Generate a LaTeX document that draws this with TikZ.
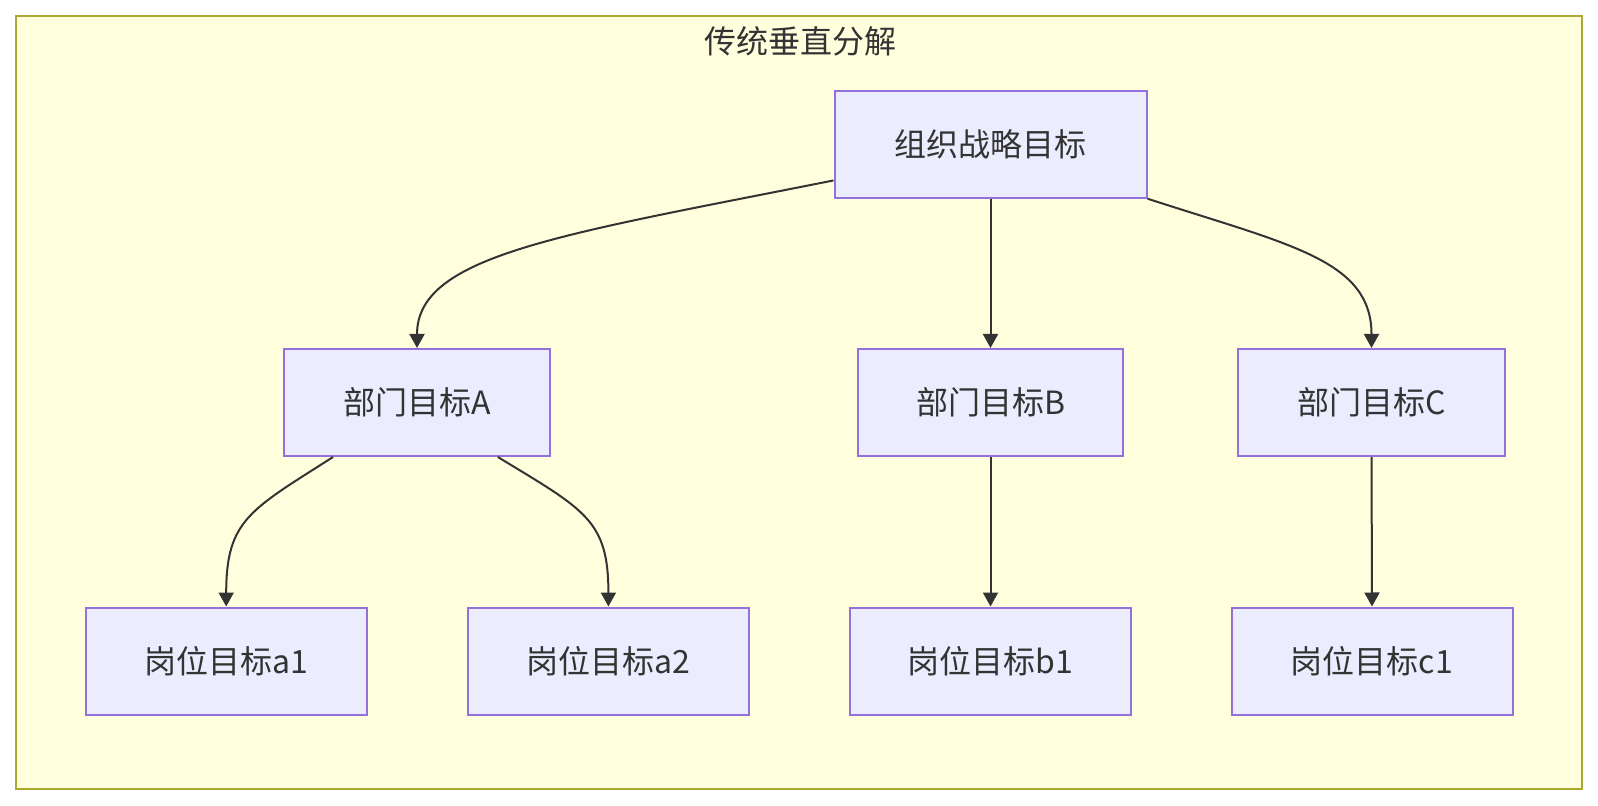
\documentclass[tikz,border=0pt]{standalone}
\usepackage{fontspec}
\setmainfont{Noto Sans CJK SC}
\usetikzlibrary{arrows.meta}
\definecolor{nodefill}{HTML}{ECECFF}
\definecolor{nodeline}{HTML}{9370DB}
\definecolor{clusterfill}{HTML}{FFFFDE}
\definecolor{clusterline}{HTML}{AAAA33}
\definecolor{edgecol}{HTML}{333333}
\definecolor{textcol}{HTML}{333333}
\begin{document}
\begin{tikzpicture}[x=0.5pt,y=-0.5pt,
  box/.style={draw=nodeline, fill=nodefill, line width=1pt, inner sep=0pt,
    minimum height=53.5pt, text=textcol, font=\fontsize{16}{19}\selectfont},
  cluster/.style={draw=clusterline, fill=clusterfill, line width=1pt},
  titletext/.style={text=textcol, font=\fontsize{16}{19}\selectfont, inner sep=0pt},
  link/.style={draw=edgecol, line width=1pt, -{Triangle[length=7pt,width=7.5pt]}}]
\useasboundingbox (0,0) rectangle (1598,806);
\fill[white] (0,0) rectangle (1598,806);
\draw[cluster] (16,16) rectangle (1582,789);
\node[titletext] (title) at (800,41) {传统垂直分解};

\node[box, minimum width=156pt] (top) at (990.5,144.2) {组织战略目标};
\node[box, minimum width=133pt] (A) at (417,402.5) {部门目标A};
\node[box, minimum width=132.5pt] (B) at (990.5,402.5) {部门目标B};
\node[box, minimum width=133.5pt] (C) at (1371.5,402.5) {部门目标C};
\node[box, minimum width=140.5pt] (a1) at (226.2,661) {岗位目标a1};
\node[box, minimum width=140.5pt] (a2) at (608.4,661) {岗位目标a2};
\node[box, minimum width=140.5pt] (b1) at (990.5,661) {岗位目标b1};
\node[box, minimum width=140.5pt] (c1) at (1372,661) {岗位目标c1};

\draw[link] (top.193) .. controls (560,235) and (417,255) .. (A.north);
\draw[link] (top.south) -- (B.north);
\draw[link] (top.south east) .. controls (1290,245) and (1371.5,260) .. (C.north);
\draw[link] (A.213.7) .. controls (250,510) and (226.2,520) .. (a1.north);
\draw[link] (A.326.3) .. controls (585,510) and (608.4,520) .. (a2.north);
\draw[link] (B.south) -- (b1.north);
\draw[link] (C.south) -- (c1.north);
\end{tikzpicture}
\end{document}
